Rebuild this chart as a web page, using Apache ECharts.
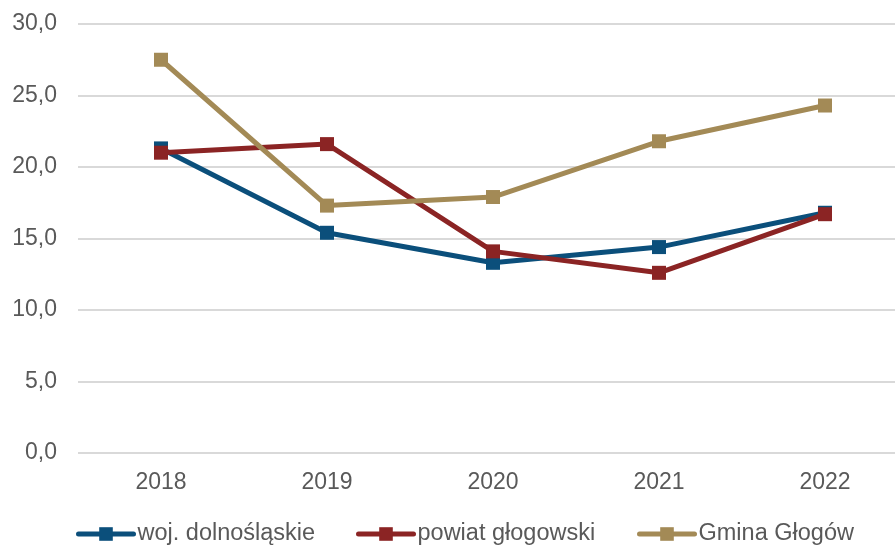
<!DOCTYPE html>
<html>
<head>
<meta charset="utf-8">
<script src="https://cdn.jsdelivr.net/npm/echarts@6/dist/echarts.min.js"></script>
<style>
  html, body { margin: 0; padding: 0; background: #ffffff; }
  #chart { width: 895px; height: 545px; }
</style>
</head>
<body>
<div id="chart"></div>
<script>
// Years on the category axis
const years = ['2018', '2019', '2020', '2021', '2022'];

// Series values
const wojDolnoslaskie = [21.3, 15.4, 13.3, 14.4, 16.8];
const powiatGlogowski = [21.0, 21.6, 14.1, 12.6, 16.7];
const gminaGlogow = [27.5, 17.3, 17.9, 21.8, 24.3];

// Value axis range
const yMin = 0;
const yMax = 30;
const yStep = 5;

const seriesNames = ['woj. dolnośląskie', 'powiat głogowski', 'Gmina Głogów'];
const seriesColors = ['#0B4F7B', '#8B2424', '#A38A56'];
const seriesValues = [wojDolnoslaskie, powiatGlogowski, gminaGlogow];
// Left edge of each legend entry
const legendLeft = [76, 356, 637];

const textColor = '#595959';
const fontFamily = '"Liberation Sans", Arial, sans-serif';

const chart = echarts.init(document.getElementById('chart'), null, { renderer: 'canvas' });

chart.setOption({
  animation: false,
  backgroundColor: '#ffffff',
  textStyle: { fontFamily: fontFamily },
  grid: { left: 78, top: 24, width: 830, height: 429, outerBoundsMode: 'none', containLabel: false },
  legend: seriesNames.map((name, i) => ({
    left: legendLeft[i],
    top: 522,
    padding: 0,
    itemWidth: 55,
    itemHeight: 17,
    lineStyle: { width: 5, cap: 'round' },
    textStyle: { color: textColor, fontSize: 23.5, fontFamily: fontFamily, padding: [0, 0, 0, -1] },
    data: [name]
  })),
  xAxis: {
    type: 'category',
    data: years,
    boundaryGap: true,
    axisLine: { show: false },
    axisTick: { show: false },
    axisLabel: { color: textColor, fontSize: 23, margin: 18, fontFamily: fontFamily },
    splitLine: { show: false }
  },
  yAxis: {
    type: 'value',
    min: yMin,
    max: yMax,
    interval: yStep,
    axisLine: { show: false },
    axisTick: { show: false },
    axisLabel: {
      color: textColor,
      fontSize: 23,
      margin: 21,
      fontFamily: fontFamily,
      formatter: v => v.toFixed(1).replace('.', ',')
    },
    splitLine: { lineStyle: { color: '#D9D9D9', width: 2 } }
  },
  series: seriesNames.map((name, i) => ({
    name: name,
    type: 'line',
    data: seriesValues[i],
    color: seriesColors[i],
    symbol: 'rect',
    symbolSize: 14,
    showAllSymbol: true,
    lineStyle: { width: 5, color: seriesColors[i], cap: 'round' },
    itemStyle: { color: seriesColors[i] },
    z: 2 + i
  }))
});
</script>
</body>
</html>
